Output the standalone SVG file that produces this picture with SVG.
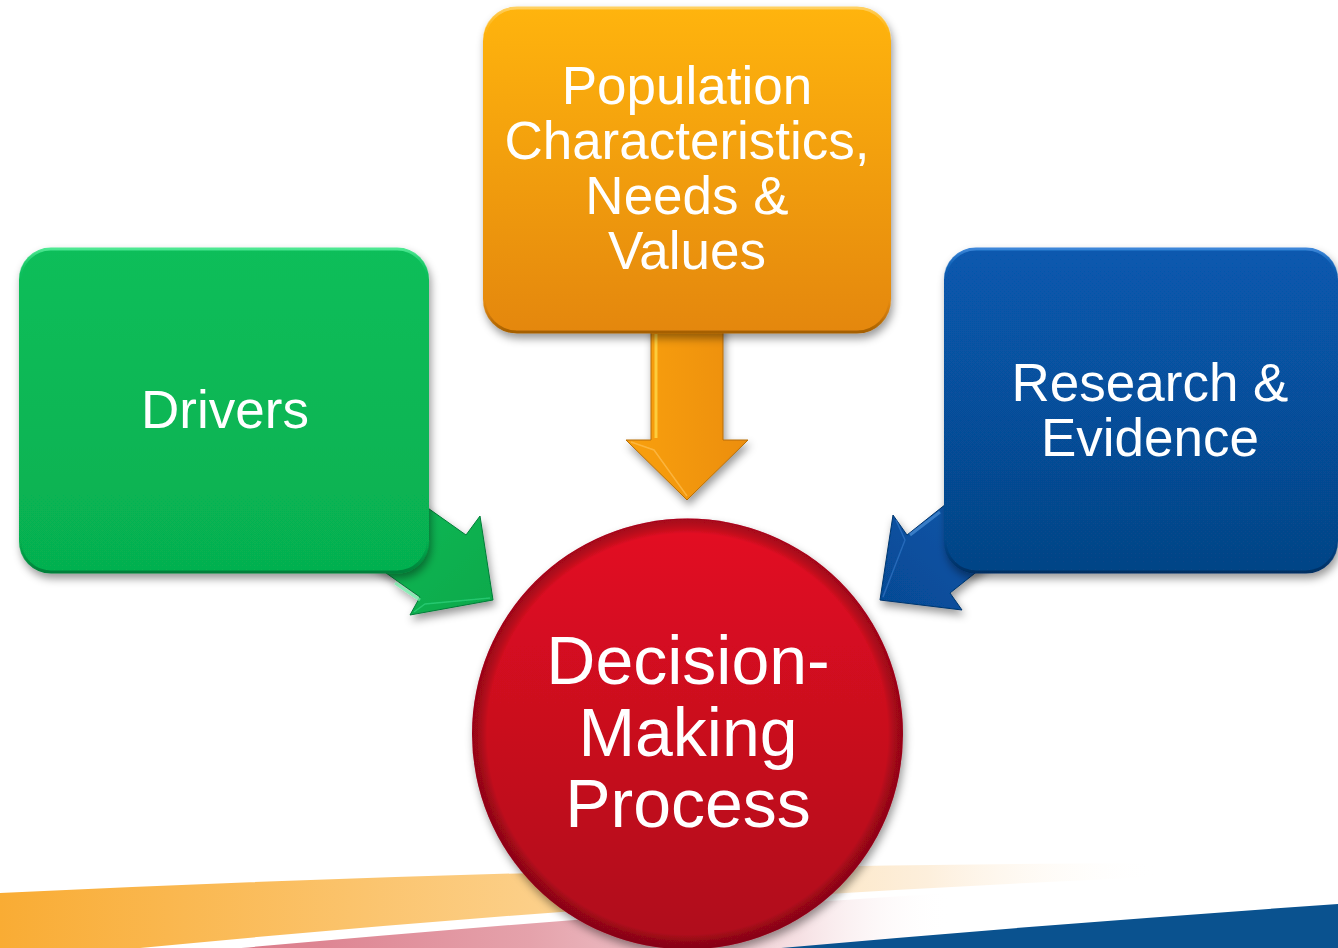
<svg xmlns="http://www.w3.org/2000/svg" width="1338" height="948" viewBox="0 0 1338 948">
<style>
.lbl{font-family:"Liberation Sans",Arial,sans-serif;fill:#ffffff;text-anchor:middle;}
.box{font-size:53px;}
.big{font-size:68px;}
</style>
<defs>
<filter id="sh" x="-20%" y="-20%" width="140%" height="140%">
<feDropShadow dx="2" dy="5" stdDeviation="4" flood-color="#000" flood-opacity="0.4"/>
</filter>
<linearGradient id="gOr" x1="0" y1="0" x2="0" y2="1">
<stop offset="0" stop-color="#FFB40C"/><stop offset="1" stop-color="#E4870A"/>
</linearGradient>
<linearGradient id="gGr" x1="0" y1="0" x2="0" y2="1">
<stop offset="0" stop-color="#0ABE5A"/><stop offset="1" stop-color="#06B050"/>
</linearGradient>
<linearGradient id="gBl" x1="0" y1="0" x2="0" y2="1">
<stop offset="0" stop-color="#0759AF"/><stop offset="1" stop-color="#064486"/>
</linearGradient>
<linearGradient id="gRd" x1="0" y1="0" x2="0" y2="1">
<stop offset="0" stop-color="#E40B22"/><stop offset="1" stop-color="#AE081B"/>
</linearGradient>
<linearGradient id="edgeOr" x1="0" y1="0" x2="0" y2="1">
<stop offset="0" stop-color="#FFD060"/><stop offset="0.1" stop-color="#FFB40C" stop-opacity="0"/><stop offset="0.9" stop-color="#B86A05" stop-opacity="0"/><stop offset="1" stop-color="#A55F04"/>
</linearGradient>
<linearGradient id="edgeGr" x1="0" y1="0" x2="0" y2="1">
<stop offset="0" stop-color="#4EE892"/><stop offset="0.1" stop-color="#0ABE5A" stop-opacity="0"/><stop offset="0.9" stop-color="#04883C" stop-opacity="0"/><stop offset="1" stop-color="#04803A"/>
</linearGradient>
<linearGradient id="edgeBl" x1="0" y1="0" x2="0" y2="1">
<stop offset="0" stop-color="#3C86D8"/><stop offset="0.1" stop-color="#0759AF" stop-opacity="0"/><stop offset="0.9" stop-color="#03336A" stop-opacity="0"/><stop offset="1" stop-color="#032F62"/>
</linearGradient>
<linearGradient id="bandOr" gradientUnits="userSpaceOnUse" x1="0" y1="0" x2="1160" y2="0">
<stop offset="0" stop-color="#F9AC34"/><stop offset="0.46" stop-color="#FCCF88"/><stop offset="0.62" stop-color="#FCE0B4"/><stop offset="0.8" stop-color="#FDEFDC"/><stop offset="1" stop-color="#FFFFFF" stop-opacity="0"/>
</linearGradient>
<linearGradient id="bandPk" gradientUnits="userSpaceOnUse" x1="110" y1="0" x2="950" y2="0">
<stop offset="0" stop-color="#D6687A"/><stop offset="0.5" stop-color="#E5A2AB"/><stop offset="0.82" stop-color="#F6E0E3"/><stop offset="1" stop-color="#FFFFFF" stop-opacity="0"/>
</linearGradient>
<radialGradient id="rdEdge" cx="0.5" cy="0.5" r="0.5">
<stop offset="0.93" stop-color="#000" stop-opacity="0"/><stop offset="1" stop-color="#5A0010" stop-opacity="0.45"/>
</radialGradient>
<linearGradient id="gArOr" x1="0" y1="0" x2="1" y2="0">
<stop offset="0" stop-color="#F9A00B"/><stop offset="1" stop-color="#EC8E08"/>
</linearGradient>
<linearGradient id="gArGr" x1="0" y1="0" x2="1" y2="1">
<stop offset="0" stop-color="#0DBD58"/><stop offset="1" stop-color="#07A94B"/>
</linearGradient>
<linearGradient id="gArBl" x1="1" y1="0" x2="0" y2="1">
<stop offset="0" stop-color="#0A59B0"/><stop offset="1" stop-color="#064A94"/>
</linearGradient>
</defs>

<g id="background">
<rect x="0" y="0" width="1338" height="948" fill="#ffffff"/>
<path d="M0,893 Q560,866 1160,863 L1160,877 Q600,900 0,962 Z" fill="url(#bandOr)"/>
<path d="M110,960 Q560,918 950,893 L950,960 Z" fill="url(#bandPk)"/>
<path d="M770,949 Q1050,924 1338,904 L1338,960 L770,960 Z" fill="#0A528F"/>
</g>

<g id="connectors">
<g id="arrow-population" filter="url(#sh)">
<polygon points="651,300 723,300 723,440 748,440 687,500 626,440 651,440" fill="url(#gArOr)" stroke="#B66C06" stroke-width="1"/>
<line x1="656" y1="334" x2="656" y2="438" stroke="#FFD84A" stroke-width="3" opacity="0.8"/>
<polyline points="631,442 654,450 687,496" fill="none" stroke="#FFC560" stroke-width="1.5" opacity="0.6"/>
</g>
<g id="arrow-drivers" filter="url(#sh)">
<polygon points="384,477 466,535 480,516 493,600 410,615 420,597 338,539" fill="url(#gArGr)" stroke="#067D38" stroke-width="1"/>
<line x1="395" y1="583" x2="420" y2="600" stroke="#6EF2A8" stroke-width="3" opacity="0.7"/>
<polyline points="414,612 425,604 490,598" fill="none" stroke="#3ED886" stroke-width="1.5" opacity="0.6"/>
</g>
<g id="arrow-research" filter="url(#sh)">
<polygon points="985,473 907,535 893,515 880,600 962,610 950,593 1028,531" fill="url(#gArBl)" stroke="#03356D" stroke-width="1"/>
<line x1="940" y1="512" x2="910" y2="535" stroke="#5B9AE0" stroke-width="3" opacity="0.6"/>
<polyline points="896,520 905,540 883,597" fill="none" stroke="#3A7ACB" stroke-width="1.5" opacity="0.6"/>
</g>
</g>

<g id="node-drivers" filter="url(#sh)">
<rect x="19" y="248" width="410" height="325" rx="32" fill="url(#gGr)"/>
<rect x="20" y="249" width="408" height="323" rx="31" fill="none" stroke="url(#edgeGr)" stroke-width="3"/>
<text class="lbl box" x="225" y="428">Drivers</text>
</g>

<g id="node-population" filter="url(#sh)">
<rect x="483" y="7" width="408" height="326" rx="34" fill="url(#gOr)"/>
<rect x="484" y="8" width="406" height="324" rx="33" fill="none" stroke="url(#edgeOr)" stroke-width="3"/>
<text class="lbl box" x="687" y="104">Population</text>
<text class="lbl box" x="687" y="159">Characteristics,</text>
<text class="lbl box" x="687" y="214">Needs &amp;</text>
<text class="lbl box" x="687" y="269">Values</text>
</g>

<g id="node-research" filter="url(#sh)">
<rect x="944" y="248" width="394" height="325" rx="32" fill="url(#gBl)"/>
<rect x="945" y="249" width="392" height="323" rx="31" fill="none" stroke="url(#edgeBl)" stroke-width="3"/>
<text class="lbl box" x="1150" y="401">Research &amp;</text>
<text class="lbl box" x="1150" y="456">Evidence</text>
</g>

<g id="node-decision" filter="url(#sh)">
<circle cx="687.5" cy="734" r="215.5" fill="url(#gRd)"/>
<circle cx="687.5" cy="734" r="215.5" fill="url(#rdEdge)"/>
<text class="lbl big" x="688" y="684">Decision-</text>
<text class="lbl big" x="688" y="756">Making</text>
<text class="lbl big" x="688" y="827">Process</text>
</g>
</svg>
